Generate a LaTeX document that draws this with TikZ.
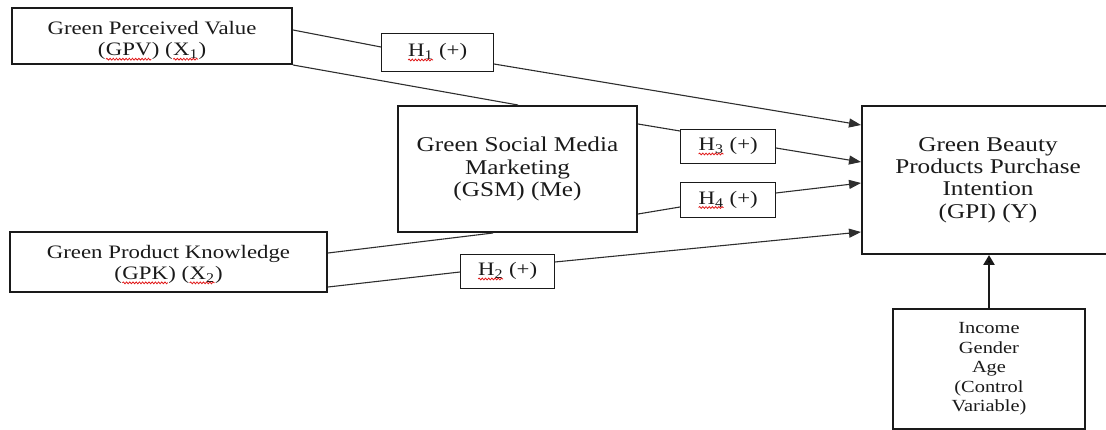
\documentclass[tikz,border=0pt]{standalone}
\usepackage{fontspec}
\setmainfont{Liberation Serif}[FakeStretch=1.2]
\usetikzlibrary{arrows.meta,calc,decorations.pathmorphing}
\definecolor{ink}{HTML}{1A1A1A}
\definecolor{lnk}{HTML}{2E2E2E}
\definecolor{sq}{HTML}{E01818}
\newcommand\mainf{\fontsize{19}{21.5}\selectfont}
\newcommand\bigf{\fontsize{21}{22.3}\selectfont}
\newcommand\ctrlf{\fontsize{17}{19.6}\selectfont}
\newcommand\wv[1]{\tikz[baseline=(wvn.base)]{\node[draw=none,fill=none,inner sep=0pt,outer sep=0pt,minimum width=0pt,minimum height=0pt,anchor=base,line width=0.4pt](wvn){#1};\draw[draw=sq,line width=0.8pt,decorate,decoration={snake,amplitude=0.9pt,segment length=3.2pt}] ([yshift=-3.2pt]wvn.base west) -- ([yshift=-3.2pt]wvn.base east);}}
\begin{document}
\begin{tikzpicture}[x=1pt,y=-1pt,
  bigbox/.style={draw=ink, line width=2pt, rectangle, inner sep=0pt, anchor=north west, align=center, text=ink},
  hbox/.style={draw=ink, line width=0.9pt, rectangle, inner sep=0pt, anchor=north west, align=center, text=ink, font=\mainf},
  conn/.style={draw=lnk, line width=1.1pt},
  arr/.style={conn, -{Triangle[length=12pt,width=9pt]}},
  thickarr/.style={draw=ink, line width=2.6pt, -{Triangle[length=10pt,width=11pt]}}]
\useasboundingbox (0,0) rectangle (1106,430);

\node[bigbox, font=\mainf, minimum width=280pt, minimum height=56pt] (gpv) at (11,7)
  {\mbox{}\\[1.5pt]Green Perceived Value\\(\wv{GPV}) (\wv{X\textsubscript{1}})};
\node[hbox, minimum width=112pt, minimum height=38pt] (h1) at (381,33) {\wv{H\textsubscript{1}} (+)};
\node[bigbox, font=\bigf, minimum width=239pt, minimum height=126pt] (gsm) at (397,105)
  {Green Social Media\\Marketing\\(GSM) (Me)};
\node[hbox, minimum width=95pt, minimum height=34pt] (h3) at (680,129) {\wv{H\textsubscript{3}} (+)};
\node[hbox, minimum width=95pt, minimum height=35pt] (h4) at (680,182) {\wv{H\textsubscript{4}} (+)};
\node[bigbox, font=\mainf, minimum width=317pt, minimum height=60pt] (gpk) at (9,231)
  {\mbox{}\\[-3.2pt]Green Product Knowledge\\(\wv{GPK}) (\wv{X\textsubscript{2}})};
\node[hbox, minimum width=94pt, minimum height=34pt] (h2) at (460,254) {\wv{H\textsubscript{2}} (+)};
\node[bigbox, font=\bigf, minimum width=252pt, minimum height=148pt] (gpi) at (861,105)
  {Green Beauty\\Products Purchase\\Intention\\(GPI) (Y)};
\node[bigbox, font=\ctrlf, minimum width=192pt, minimum height=120pt] (ctrl) at (892,308)
  {Income\\Gender\\Age\\(Control\\Variable)};

\draw[conn] ($(gpv.north east)+(0,23)$) -- ($(h1.north west)+(0,14)$);
\draw[arr]  ($(h1.north east)+(0,31)$) -- ($(gpi.north west)+(0,20)$);
\draw[conn] (gpv.south east) -- ($(gsm.north west)+(121,0)$);
\draw[conn] ($(gsm.north east)+(0,19)$) -- ($(h3.north west)+(0,2)$);
\draw[arr]  ($(h3.north east)+(0,19)$) -- ($(gpi.north west)+(0,57)$);
\draw[conn] ($(gsm.south east)+(0,-19)$) -- ($(h4.north west)+(0,25)$);
\draw[arr]  ($(h4.north east)+(0,11)$) -- ($(gpi.north west)+(0,78)$);
\draw[conn] ($(gpk.north east)+(0,22)$) -- ($(gsm.south west)+(96,0)$);
\draw[conn] ($(gpk.south east)+(0,-6)$) -- ($(h2.north west)+(0,18)$);
\draw[arr]  ($(h2.north east)+(0,8)$) -- ($(gpi.north west)+(0,127)$);
\draw[thickarr] (ctrl.north) -- (ctrl.north |- gpi.south);
\end{tikzpicture}
\end{document}
